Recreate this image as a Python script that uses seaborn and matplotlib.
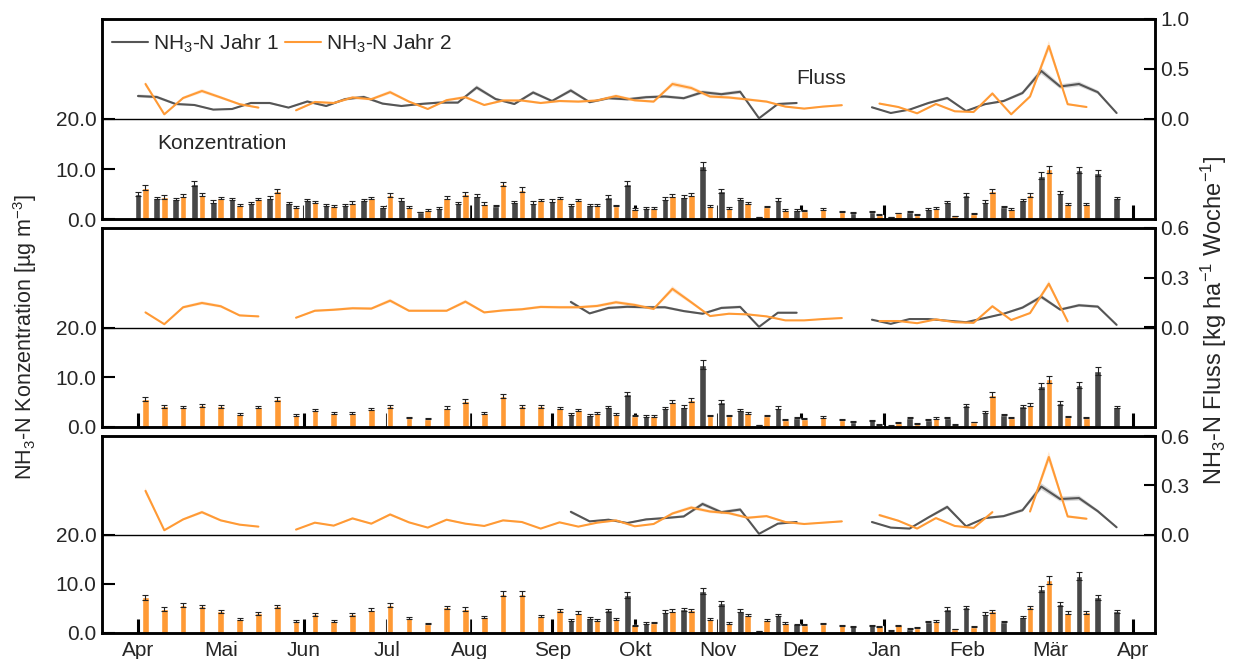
"""NH3-N concentration (bars) and weekly flux (lines) for three sites, Jahr 1 vs Jahr 2."""

import matplotlib

matplotlib.use("Agg")
import matplotlib.pyplot as plt
import numpy as np
import pandas as pd
import seaborn as sns

nan = np.nan

MONTHS = ["Apr", "Mai", "Jun", "Jul", "Aug", "Sep", "Okt", "Nov", "Dez", "Jan", "Feb", "Mär", "Apr"]
WEEKS = np.arange(53)

# Konzentration [µg m-3], one value per week
CONC_A_J1 = [5.0, 4.2, 4.0, 7.1, 3.5, 4.0, 3.2, 4.3, 3.2, 3.8,
             2.8, 2.8, 3.8, 2.4, 3.9, 1.4, 2.2, 3.2, 4.7, 2.7,
             3.4, 3.3, 3.7, 2.8, 2.8, 4.4, 7.1, 2.2, 4.1, 4.5,
             10.6, 5.6, 4.0, 0.4, 3.9, 1.8, nan, nan, 1.3, 1.5,
             0.4, 1.5, 2.0, 3.4, 4.8, 3.5, 2.5, 3.8, 8.7, 5.3,
             9.8, 9.2, 4.2]
CONC_A_J2 = [6.3, 4.4, 4.7, 4.9, 4.2, 2.8, 4.0, 5.6, 2.4, 3.4,
             2.6, 3.3, 4.2, 4.8, 2.4, 1.8, 4.3, 5.0, 3.1, 7.0,
             5.9, 3.8, 4.2, 3.8, 2.8, 2.7, 2.0, 2.2, 4.7, 4.9,
             2.6, 2.2, 3.2, 2.5, 1.8, 1.7, 2.0, 1.5, nan, 0.9,
             1.2, 0.9, 2.2, 0.6, 1.1, 5.6, 2.0, 4.8, 10.0, 3.0,
             3.0, nan, nan]
CONC_B_J1 = [nan] * 23 + [2.7, 2.4, 4.0, 6.6, 2.2, 3.8, 4.1,
                          12.5, 5.0, 3.4, 0.4, 3.9, 1.9, nan, nan, 1.1, 1.4,
                          0.3, 1.9, 1.5, 1.9, 4.4, 3.0, 2.5, 4.2, 8.3, 4.8,
                          8.4, 11.2, 4.0]
CONC_B_J2 = [5.6, 4.2, 4.0, 4.4, 4.2, 2.7, 4.0, 5.6, 2.4, 3.4,
             2.8, 2.8, 3.6, 4.2, 1.9, 1.7, 3.9, 5.2, 2.9, 6.2,
             4.2, 4.2, 3.8, 3.4, 2.8, 2.6, 2.3, 2.2, 5.1, 5.4,
             2.3, 2.3, 2.9, 2.3, 1.5, 1.7, 2.0, 1.5, nan, 0.5,
             0.9, 0.7, 1.8, 0.5, 1.0, 6.5, 1.9, 4.5, 9.6, 2.1,
             1.9, nan, nan]
CONC_C_J1 = [nan] * 23 + [2.7, 3.1, 4.6, 7.7, 2.0, 4.3, 4.8,
                          8.6, 6.0, 4.5, 0.4, 3.7, 1.8, nan, nan, 1.4, 1.6,
                          0.5, 0.9, 2.3, 4.9, 5.2, 3.9, 2.3, 3.2, 8.9, 5.8,
                          11.5, 7.3, 4.4]
CONC_C_J2 = [7.3, 4.9, 5.6, 5.4, 4.4, 2.9, 4.0, 5.4, 2.4, 3.8,
             2.4, 3.8, 4.7, 5.6, 3.0, 1.9, 5.2, 4.9, 3.3, 8.0,
             8.0, 3.5, 4.6, 4.1, 2.7, 2.8, 1.6, 2.1, 4.5, 4.6,
             2.9, 2.0, 3.7, 2.6, 2.0, 1.7, 1.9, 1.6, nan, 1.4,
             1.6, 1.1, 2.5, 0.8, 1.3, 4.4, nan, 5.2, 10.8, 4.1,
             4.2, nan, nan]

# Fluss [kg ha-1 Woche-1]
FLUX_A_J1 = [.23, .22, .15, .14, .094, .10, .16, .16, .114, .175,
             .13, .198, .22, .154, .13, .15, .164, .164, .315, .20,
             .15, .265, .18, .285, .168, .208, .197, .218, .225, .208,
             .268, .248, .272, .007, .15, .16, nan, nan, nan, .117,
             .06, .094, .16, .21, .08, .148, .18, .26, .48, .325,
             .35, .268, .06]
FLUX_A_J2 = [.35, .047, .21, .28, .215, .148, .114, nan, .087, .17,
             .16, .215, .198, .268, .174, .10, .188, .218, .14, .185,
             .185, .16, .18, .174, .185, .23, .187, .174, .35, .31,
             .225, .215, .195, .174, .124, .104, .124, .138, nan, .154,
             .12, .057, .15, .077, .07, .255, .047, .225, .73, .148,
             .12, nan, nan]
FLUX_B_J1 = [nan] * 23 + [.154, .085, .118, .125, .122, .122, .099,
                          .083, .118, .124, .004, .089, .089, nan, nan, nan, .047,
                          .022, .051, .051, .041, .032, .057, .083, .12, .185, .108,
                          .134, .126, .016]
FLUX_B_J2 = [.091, .02, .122, .148, .128, .073, .067, nan, .059, .101,
             .107, .116, .114, .162, .101, .101, .101, .156, .091, .103,
             .11, .124, .122, .122, .13, .152, .136, .112, .233, .152,
             .069, .083, .079, .067, .043, .043, .051, .057, nan, .039,
             .039, .026, .049, .032, .028, .128, .045, .087, .264, .037,
             nan, nan, nan]
FLUX_C_J1 = [nan] * 23 + [.138, .08, .09, .07, .092, .1, .11,
                          .186, .136, .152, .004, .066, .076, nan, nan, nan, .076,
                          .042, .036, .104, .168, .05, .1, .112, .148, .292, .216,
                          .222, .142, .044]
FLUX_C_J2 = [.266, .026, .092, .136, .086, .06, .048, nan, .03, .072,
             .054, .098, .066, .122, .074, .042, .09, .066, .052, .086,
             .076, .036, .074, .048, .072, .086, .05, .064, .128, .164,
             .14, .13, .102, .112, .076, .064, .072, .08, nan, .118,
             .084, .036, .1, .052, .04, .136, nan, .14, .472, .11,
             .096, nan, nan]

FLUX_MAX = [1.0, 0.6, 0.6]

GREY = "#474747"
ORANGE = "#ff9a35"
REL_ERR = 0.07  # relative measurement uncertainty shown as error bar / band

sns.set_theme(style="ticks")
plt.rcParams["font.family"] = ["Liberation Sans", "DejaVu Sans"]
plt.rcParams["mathtext.fontset"] = "custom"
plt.rcParams["mathtext.rm"] = "Liberation Sans"
plt.rcParams["mathtext.it"] = "Liberation Sans:italic"
plt.rcParams["axes.unicode_minus"] = True
FS = 15

panels = [
    (CONC_A_J1, CONC_A_J2, FLUX_A_J1, FLUX_A_J2),
    (CONC_B_J1, CONC_B_J2, FLUX_B_J1, FLUX_B_J2),
    (CONC_C_J1, CONC_C_J2, FLUX_C_J1, FLUX_C_J2),
]

fig = plt.figure(figsize=(12.36, 6.59), dpi=100)
W, H = 1236, 659
left, right = 102 / W, 1155 / W
boxes = [(19, 219), (228, 427), (436, 633)]
month_pos = np.arange(13) * 4.405

for k, (c1, c2, f1, f2) in enumerate(panels):
    top, bot = boxes[k]
    ax = fig.add_axes([left, 1 - bot / H, right - left, (bot - top) / H])

    df = pd.DataFrame({
        "pos": np.concatenate([WEEKS + 0.2, WEEKS + 0.2]),
        "conc": np.concatenate([c1, c2]),
        "Jahr": ["Jahr 1"] * len(WEEKS) + ["Jahr 2"] * len(WEEKS),
    })
    sns.barplot(data=df, x="pos", y="conc", hue="Jahr", native_scale=True,
                palette={"Jahr 1": GREY, "Jahr 2": ORANGE}, saturation=1,
                errorbar=None, width=0.8, gap=0.12, legend=False, ax=ax, zorder=2)
    for vals, off in ((c1, 0.0), (c2, 0.4)):
        v = np.asarray(vals, dtype=float)
        ax.errorbar(WEEKS + off, v, yerr=v * REL_ERR, fmt="none", ecolor="#222222",
                    elinewidth=0.8, capsize=2.2, capthick=0.8, zorder=3)

    ax.axhline(20, color="black", lw=1.0, zorder=1)
    ax.set_ylim(0, 40)
    ax.set_yticks([0, 10, 20])
    ax.set_yticklabels(["0.0", "10.0", "20.0"])
    ax.set_xlim(-1.91, 54.04)
    ax.set_xticks(month_pos)
    ax.set_xticklabels(MONTHS if k == 2 else [])
    ax.set_xlabel("")
    ax.set_ylabel("")
    ax.tick_params(axis="x", direction="in", length=10, width=2.2, pad=6,
                   labelsize=FS, color="black")
    ax.tick_params(axis="y", direction="in", length=9, width=1.5, pad=4,
                   labelsize=FS, color="black")
    for sp in ax.spines.values():
        sp.set_linewidth(1.8)
        sp.set_color("black")

    ax2 = ax.twinx()
    fmax = FLUX_MAX[k]
    for vals, off, col, lab in ((f1, 0.0, "#555555", r"NH$_3$-N Jahr 1"),
                                (f2, 0.4, ORANGE, r"NH$_3$-N Jahr 2")):
        v = np.asarray(vals, dtype=float)
        x = WEEKS + off
        ax2.fill_between(x, v * (1 - REL_ERR), v * (1 + REL_ERR), color=col,
                         alpha=0.22, lw=0)
        ax2.plot(x, v, color=col, lw=1.5, label=lab)
    ax2.set_ylim(-fmax, fmax)
    ax2.set_yticks([0, fmax / 2, fmax])
    ax2.set_yticklabels([f"{t:.1f}" for t in (0, fmax / 2, fmax)])
    ax2.tick_params(axis="y", direction="in", length=8, width=1.5, pad=4,
                    labelsize=FS, color="black")
    for sp in ax2.spines.values():
        sp.set_linewidth(1.8)
        sp.set_color("black")

    if k == 0:
        ax2.legend(loc="upper left", ncol=2, frameon=False, fontsize=FS,
                   handlelength=1.7, handletextpad=0.25, columnspacing=0.3,
                   borderaxespad=0.0, bbox_to_anchor=(0.002, 0.975))
        ax.text(1.0, 15.1, "Konzentration", fontsize=FS, va="center", ha="left")
        ax2.text(36.3, 0.41, "Fluss", fontsize=FS, va="center", ha="center")

fig.text(25 / W, 1 - 337 / H, r"NH$_3$-N Konzentration [µg m$^{-3}$]",
         rotation=90, fontsize=15.5, ha="center", va="center")
fig.text(1214 / W, 1 - 320 / H, r"NH$_3$-N Fluss [kg ha$^{-1}$ Woche$^{-1}$]",
         rotation=90, fontsize=17, ha="center", va="center")

fig.savefig("out.png", dpi=100)
